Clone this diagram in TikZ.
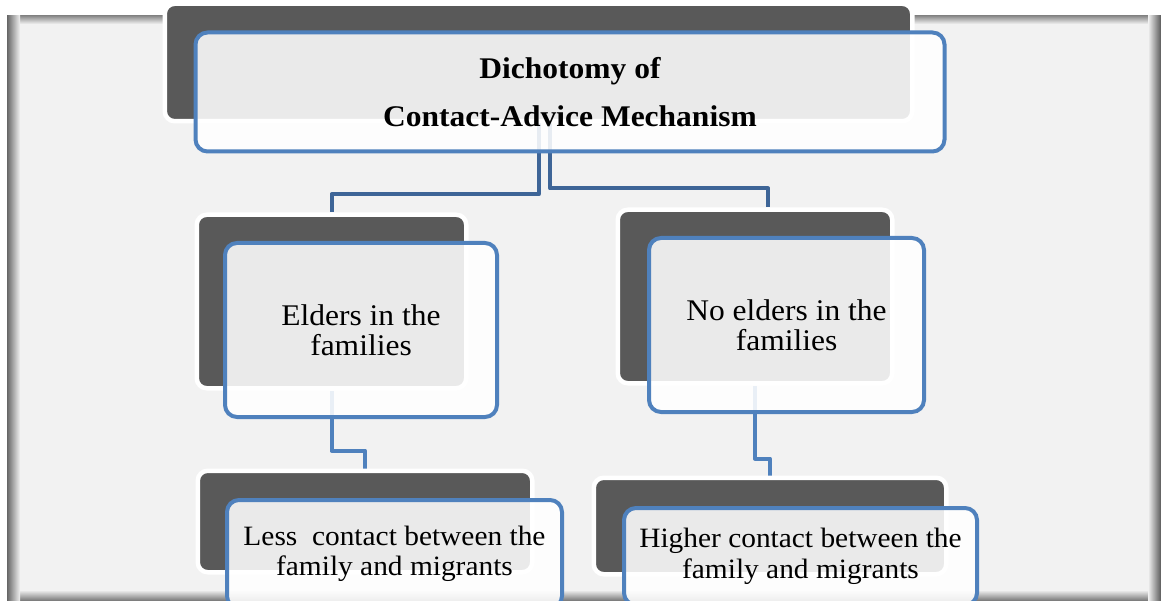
\documentclass[tikz,border=0pt]{standalone}
\usepackage{fontspec}
\setmainfont{Liberation Serif}[FakeStretch=1.05]
\definecolor{dkgray}{HTML}{595959}
\definecolor{boxblue}{HTML}{4F81BD}
\definecolor{connblue}{HTML}{3E6597}
\definecolor{panel}{HTML}{F2F2F2}
\pgfdeclarelayer{bg}
\pgfdeclarelayer{conn}
\pgfsetlayers{bg,conn,main}
\begin{document}
\begin{tikzpicture}[x=1pt,y=-1pt,
  darkbox/.style={draw=white, line width=4.5pt, fill=dkgray, rounded corners=10pt, inner sep=0pt},
  bluebox/.style={draw=boxblue, line width=4pt, fill=white, fill opacity=0.88, text opacity=1,
    rounded corners=12pt, inner sep=0pt, align=center, text=black},
  conntop/.style={draw=connblue, line width=4pt, line join=round},
  connlow/.style={draw=boxblue, line width=4pt, line join=round},
  titlefont/.style={font=\fontsize{30}{48}\selectfont\bfseries},
  midfont/.style={font=\fontsize{30}{30}\selectfont},
  lowfont/.style={font=\fontsize{28}{30.5}\selectfont}]
\useasboundingbox (0,0) rectangle (1161,601);
\clip (0,0) rectangle (1161,601);

% background panel
\begin{pgfonlayer}{bg}
  \fill[white] (0,0) rectangle (1161,601);
  \fill[panel] (7,16) rectangle (1161,601);
  \shade[top color=black!45, bottom color=panel] (7,16) rectangle (1161,24);
  \shade[top color=panel, bottom color=black!55] (7,590) rectangle (1161,601);
  \shade[left color=black!60, right color=panel] (7,16) rectangle (20,601);
  \shade[left color=panel, right color=black!65] (1148,16) rectangle (1161,601);
\end{pgfonlayer}

% dark background boxes
\node[darkbox, minimum width=747.5pt, minimum height=117.5pt] (tdk) at (538.5,62.5) {};
\node[darkbox, minimum width=269.5pt, minimum height=173.5pt] (mdL) at (331.5,301.5) {};
\node[darkbox, minimum width=274.5pt, minimum height=173.5pt] (mdR) at (755,296.5) {};
\node[darkbox, minimum width=334.5pt, minimum height=101.5pt] (bdL) at (365,521.5) {};
\node[darkbox, minimum width=352.5pt, minimum height=96.5pt] (bdR) at (770,526) {};

% front boxes with text
\node[bluebox, titlefont, minimum width=749pt, minimum height=119pt] (tbx) at (570,92)
  {Dichotomy of\\Contact-Advice Mechanism};
\node[bluebox, midfont, minimum width=272pt, minimum height=174pt] (mbL) at (361,330)
  {Elders in the\\families};
\node[bluebox, midfont, minimum width=275pt, minimum height=174pt] (mbR) at (786.5,325)
  {No elders in the\\families};
\node[bluebox, lowfont, minimum width=335pt, minimum height=108pt] (bbL) at (394.5,554)
  {Less~ contact between the\\family and migrants};
\node[bluebox, lowfont, minimum width=353pt, minimum height=97pt] (bbR) at (800.5,556.5)
  {Higher contact between the\\family and migrants};

% connectors
\begin{pgfonlayer}{conn}
  \draw[conntop] (tdk.south) -- ++(0,71) -| (mdL.north);
  \draw[conntop] ([xshift=11.5pt]tdk.south) -- ++(0,65) -| ([xshift=13pt]mdR.north);
  \draw[connlow] (mdL.south) -- ++(0,60) -| (bdL.north);
  \draw[connlow] (mdR.south) -- ++(0,73) -| (bdR.north);
\end{pgfonlayer}
\end{tikzpicture}
\end{document}
